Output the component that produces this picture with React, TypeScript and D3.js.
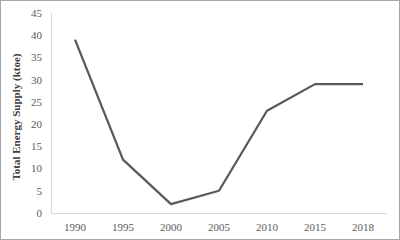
import React from "react";
import * as d3 from "d3";

const years = ["1990", "1995", "2000", "2005", "2010", "2015", "2018"];
const supply = [39, 12, 2, 5, 23, 29, 29];
const yTicks = [0, 5, 10, 15, 20, 25, 30, 35, 40, 45];

export default function App() {
  const W = 400, H = 240;
  const left = 51, right = 387, top = 13, bottom = 213;
  const x = d3.scaleBand<string>().domain(years).range([left, right]);
  const y = d3.scaleLinear().domain([0, 45]).range([bottom, top]);
  const line = d3
    .line<number>()
    .x((_, i) => (x(years[i]) as number) + x.bandwidth() / 2)
    .y((d) => y(d));
  const font = "'Liberation Serif', 'Times New Roman', serif";
  return (
    <svg width={W} height={H} style={{ position: "absolute", left: 0, top: 0 }}>
      <rect x={0} y={0} width={W} height={H} fill="#fff" />
      <rect x={0.5} y={0.5} width={W - 1} height={H - 1} fill="none" stroke="#a6a6a6" strokeWidth={1} />
      <line x1={left + 0.5} x2={left + 0.5} y1={top} y2={bottom} stroke="#d9d9d9" />
      <line x1={left} x2={right} y1={bottom + 0.5} y2={bottom + 0.5} stroke="#d9d9d9" />
      {yTicks.map((t) => (
        <text key={t} x={42} y={y(t)} dy="0.35em" textAnchor="end" fontFamily={font} fontSize={11} fill="#595959">
          {t}
        </text>
      ))}
      {years.map((yr) => (
        <text key={yr} x={(x(yr) as number) + x.bandwidth() / 2} y={227} dy="0.35em" textAnchor="middle" fontFamily={font} fontSize={11} fill="#595959">
          {yr}
        </text>
      ))}
      <text
        transform={`translate(16.5,117) rotate(-90)`}
        textAnchor="middle"
        dy="0.35em"
        fontFamily={font}
        fontSize={11}
        fontWeight="bold"
        fill="#404040"
      >
        Total Energy Supply (ktoe)
      </text>
      <path d={line(supply) || ""} fill="none" stroke="#595959" strokeWidth={2.25} strokeLinejoin="round" />
    </svg>
  );
}
